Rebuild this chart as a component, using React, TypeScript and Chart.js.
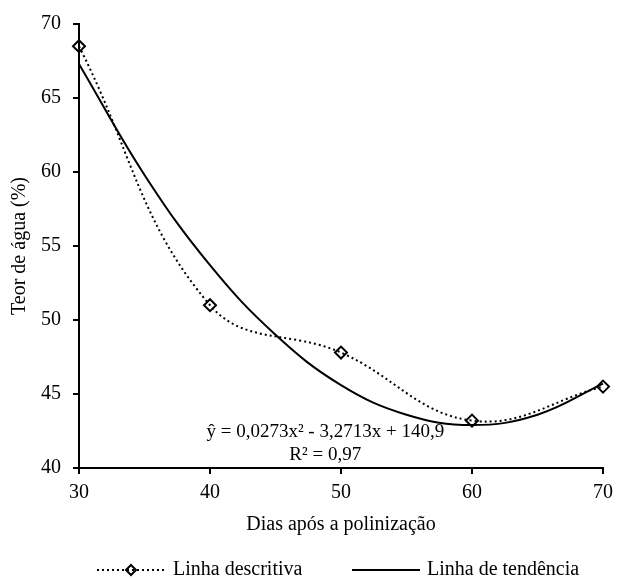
import { useEffect, useRef } from "react";
import { Chart, registerables } from "chart.js";

Chart.register(...registerables);

// Days after pollination and measured water content (%)
const days = [30, 40, 50, 60, 70];
const waterContent = [68.5, 51.0, 47.8, 43.2, 45.5];

// Quadratic trend line, sampled every 5 days
const trendDays = [30, 35, 40, 45, 50, 55, 60, 65, 70];
const trendValues = [67.3, 59.8, 53.7, 49.0, 45.6, 43.6, 42.9, 43.6, 45.7];

const xTickValues = [30, 40, 50, 60, 70];
const yTickValues = [40, 45, 50, 55, 60, 65, 70];

const seriesNames = ["Linha descritiva", "Linha de tendência"];
const equationLines = ["ŷ = 0,0273x² - 3,2713x + 140,9", "R² = 0,97"];
const xTitle = "Dias após a polinização";
const yTitle = "Teor de água (%)";

const FONT = "'Liberation Serif', 'Times New Roman', serif";
const INK = "#000000";

const annotationPlugin = {
  id: "equationAndLegend",
  afterDraw(chart: any) {
    const ctx = chart.ctx as CanvasRenderingContext2D;
    const xs = chart.scales.x;
    const ys = chart.scales.y;
    ctx.save();
    ctx.fillStyle = INK;
    ctx.textAlign = "center";
    ctx.textBaseline = "middle";
    ctx.font = `19px ${FONT}`;
    const cx = xs.getPixelForValue(48.8);
    ctx.fillText(equationLines[0], cx, ys.getPixelForValue(42.4));
    ctx.fillText(equationLines[1], cx, ys.getPixelForValue(40.9));

    // legend
    const ly = 570;
    ctx.strokeStyle = INK;
    ctx.lineWidth = 2;
    ctx.setLineDash([2, 3]);
    ctx.beginPath();
    ctx.moveTo(97, ly);
    ctx.lineTo(165, ly);
    ctx.stroke();
    ctx.setLineDash([]);
    const r = 5;
    const dx = 131;
    ctx.beginPath();
    ctx.moveTo(dx - r, ly);
    ctx.lineTo(dx, ly - r);
    ctx.lineTo(dx + r, ly);
    ctx.lineTo(dx, ly + r);
    ctx.closePath();
    ctx.stroke();

    ctx.beginPath();
    ctx.moveTo(352, ly);
    ctx.lineTo(420, ly);
    ctx.stroke();

    ctx.font = `20px ${FONT}`;
    ctx.textAlign = "left";
    ctx.fillText(seriesNames[0], 173, ly);
    ctx.fillText(seriesNames[1], 427, ly);
    ctx.restore();
  },
};

export default function App() {
  const canvasRef = useRef<HTMLCanvasElement | null>(null);

  useEffect(() => {
    const canvas = canvasRef.current;
    if (!canvas) return;
    const chart = new Chart(canvas, {
      type: "line",
      data: {
        datasets: [
          {
            label: seriesNames[0],
            data: days.map((d, i) => ({ x: d, y: waterContent[i] })),
            borderColor: INK,
            borderWidth: 2,
            borderDash: [2, 3],
            tension: 0.4,
            fill: false,
            clip: false,
            pointStyle: "rectRot",
            pointRadius: 6,
            pointBorderWidth: 2,
            pointBorderColor: INK,
            pointBackgroundColor: "rgba(0,0,0,0)",
          },
          {
            label: seriesNames[1],
            data: trendDays.map((d, i) => ({ x: d, y: trendValues[i] })),
            borderColor: INK,
            borderWidth: 2,
            tension: 0.4,
            fill: false,
            clip: false,
            pointRadius: 0,
          },
        ],
      },
      options: {
        responsive: false,
        devicePixelRatio: 1,
        animation: false,
        layout: { padding: { top: 24, right: 14, left: 0, bottom: 0 } },
        plugins: {
          legend: { display: false },
          tooltip: { enabled: false },
        },
        scales: {
          x: {
            type: "linear",
            min: 30,
            max: 70,
            afterBuildTicks: (scale: any) => {
              scale.ticks = xTickValues.map((v) => ({ value: v }));
            },
            afterFit: (scale: any) => {
              scale.height = 111;
              scale.paddingLeft = 0;
              scale.paddingRight = 0;
            },
            ticks: {
              color: INK,
              font: { family: FONT, size: 20 },
              padding: 7,
              maxRotation: 0,
              callback: (v: any) => String(v),
            },
            grid: {
              display: true,
              drawOnChartArea: false,
              drawTicks: true,
              tickLength: 6,
              color: INK,
              lineWidth: 2,
            },
            border: { display: true, color: INK, width: 2 },
            title: {
              display: true,
              text: xTitle,
              color: INK,
              font: { family: FONT, size: 20 },
              padding: { top: 0, bottom: 42 },
            },
          },
          y: {
            type: "linear",
            min: 40,
            max: 70,
            afterBuildTicks: (scale: any) => {
              scale.ticks = yTickValues.map((v) => ({ value: v }));
            },
            afterFit: (scale: any) => {
              scale.width = 79;
              scale.paddingTop = 0;
              scale.paddingBottom = 0;
            },
            ticks: {
              color: INK,
              font: { family: FONT, size: 20 },
              padding: 12,
              callback: (v: any) => String(v),
            },
            grid: {
              display: true,
              drawOnChartArea: false,
              drawTicks: true,
              tickLength: 6,
              color: INK,
              lineWidth: 2,
            },
            border: { display: true, color: INK, width: 2 },
            title: {
              display: true,
              text: yTitle,
              color: INK,
              font: { family: FONT, size: 20 },
              padding: { top: 8, bottom: 0 },
            },
          },
        },
      },
      plugins: [annotationPlugin],
    } as any);
    return () => chart.destroy();
  }, []);

  return (
    <div style={{ position: "absolute", left: 0, top: 0, width: 617, height: 579, background: "#fff" }}>
      <canvas ref={canvasRef} width={617} height={579} />
    </div>
  );
}
